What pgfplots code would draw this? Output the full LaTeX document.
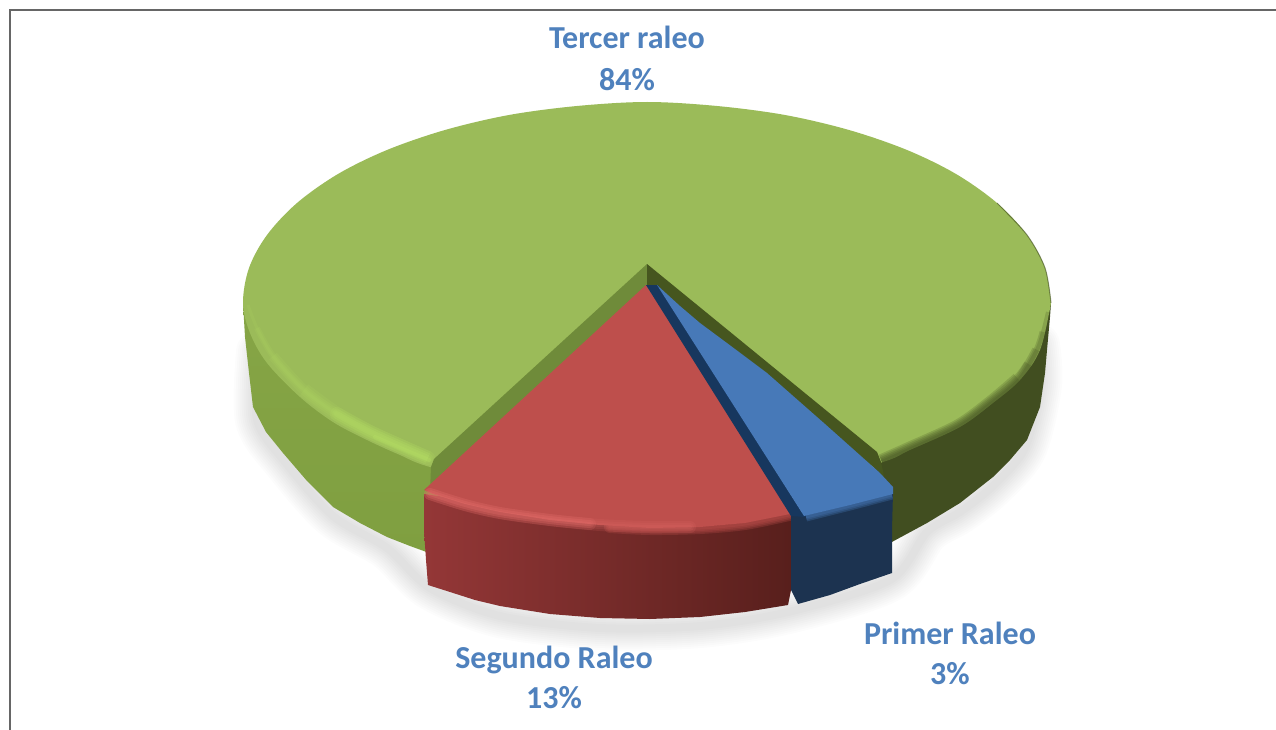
\documentclass[border=0pt]{standalone}
\usepackage{fontspec}
\setmainfont{Carlito}
\usepackage{pgfplots}
\pgfplotsset{compat=1.18}
\definecolor{gtop}{HTML}{9BBB59}
\definecolor{gleft}{HTML}{7F9F40}
\definecolor{gleftb}{HTML}{86A546}
\definecolor{gdark}{HTML}{414E20}
\definecolor{gwallL}{HTML}{6F8B3A}
\definecolor{gwallR}{HTML}{46561F}
\definecolor{ghi}{HTML}{B6E065}
\definecolor{rtop}{HTML}{BE4F4C}
\definecolor{rhi}{HTML}{E46D6A}
\definecolor{rl}{HTML}{943737}
\definecolor{rr}{HTML}{581F1C}
\definecolor{btop}{HTML}{4779B8}
\definecolor{bside}{HTML}{1C3350}
\definecolor{bwall}{HTML}{17375E}
\definecolor{lab}{HTML}{4F81BD}
\newcommand{\lbl}[1]{\fontsize{32}{36}\selectfont\bfseries\textcolor{lab}{#1}}
\begin{document}
\begin{tikzpicture}
\begin{axis}[
  width=1276pt,height=730pt,scale only axis,
  xmin=0,xmax=1276,ymin=0,ymax=730,y dir=reverse,
  hide axis,no markers,clip=true]
% frame
\addplot[draw=none,fill=white] coordinates {(0,0)(1276,0)(1276,730)(0,730)(0,0)};
\addplot[draw=black!60,line width=1.6pt] coordinates {(10,730)(10,10)(1276,10)};
% shadow
\pgfplotsinvokeforeach{44,40,36,32,28,24,20,16,12,8}{
\addplot[draw=black,opacity=.013,line width=#1pt,line join=round,line cap=round,fill=none,smooth] coordinates {
(258,352)(257,420)(285,462)(333,516)(387,548)(430,588)(500,616)(600,628)(700,626)(788,612)(890,580)(927,532)(960,512)(993,486)(1025,448)(1040,385)(1038,345)};
}
% green side, left and right
\addplot[draw=none,bottom color=gleft,top color=gleftb] coordinates {
(243,303)(245,337)(249,373)(253,407)(266,432)(283,453)(307,481)(333,507)(360,523)(387,537)(410,546)(432,554)(480,400)(243,303)};
\addplot[draw=none,fill=gdark] coordinates {
(1051,303)(1050,317)(1047,350)(1045,373)(1040,407)(1027,440)(1010,460)(993,477)(960,503)(927,523)(890,543)(860,400)(1051,303)};
% green top
\addplot[draw=none,fill=gtop,smooth,tension=.55] coordinates {
(1051,303)(1045,268)(1027,235)(997,203)(956,174)(907,150)(849,130)(785,115)(717,106)(647,102)
(577,106)(509,115)(445,130)(387,150)(338,174)(297,203)(267,235)(249,268)(243,303)
(250,333)(267,363)(300,397)(333,422)(367,440)(400,455)(430,467)(520,490)(647,500)(780,490)(880,463)
(910,450)(960,427)(993,403)(1020,380)(1040,350)(1051,303)};
% right rim: soft fall into the dark side
\addplot[draw=gdark,opacity=.22,line width=16pt,smooth,line cap=butt] coordinates {(1019,380)(992,403)(959,427)(909,450)(882,462)};
\addplot[draw=gdark,opacity=.22,line width=13pt,smooth,line cap=butt] coordinates {(1030,365)(1019,380)(992,403)(959,427)(909,450)(882,462)};
\addplot[draw=gdark,opacity=.22,line width=10pt,smooth,line cap=butt] coordinates {(1037,350)(1019,380)(992,403)(959,427)(909,450)(882,462)};
\addplot[draw=gdark,opacity=.22,line width=7pt,smooth,line cap=butt] coordinates {(1043,332)(1037,350)(1019,380)(992,403)(959,427)(909,450)(882,462)};
\addplot[draw=gdark,opacity=.22,line width=4pt,smooth,line cap=butt] coordinates {(1048,312)(1043,332)(1037,350)(1019,380)(992,403)(959,427)(909,450)(882,462)};
\addplot[draw=gdark,opacity=.6,line width=1pt,smooth] coordinates {(997,203)(1027,235)(1045,268)(1051,303)};
% left rim highlight
\addplot[draw=ghi,opacity=.13,line width=14pt,smooth,line cap=butt] coordinates {(304,390)(337,414)(370,432)(403,447)(428,458)};
\addplot[draw=ghi,opacity=.13,line width=10pt,smooth,line cap=butt] coordinates {(273,356)(304,390)(337,414)(370,432)(403,447)(428,458)};
\addplot[draw=ghi,opacity=.13,line width=6pt,smooth,line cap=butt] coordinates {(257,328)(273,356)(304,390)(337,414)(370,432)(403,447)(428,458)};
\addplot[draw=ghi,opacity=.13,line width=3pt,smooth,line cap=butt] coordinates {(248,305)(257,328)(273,356)(304,390)(337,414)(370,432)(403,447)(428,458)};
\pgfplotsinvokeforeach{14,10,6}{
\addplot[draw=ghi,opacity=.16,line width=#1pt,smooth,line cap=round] coordinates {
(337,414)(370,432)(403,447)(428,458)};
}
\addplot[draw=ghi,opacity=.3,line width=4pt,smooth,line cap=round] coordinates {(375,437)(405,450)(429,460)};
% gap walls in the green slice
\addplot[draw=none,fill=gwallL] coordinates {(647,264)(648,290)(430,492)(431,467)(434,459)(647,264)};
\addplot[draw=none,fill=gwallR] coordinates {(647,264)(877,452)(881,462)(884,476)(767,380)(700,326)(654,287)(647,285)(647,264)};
% red side
\addplot[draw=none,left color=rl,right color=rr] coordinates {
(424,494)(424,530)(426,560)(428,585)(450,592)(475,600)(500,606)(550,614)(600,618)(650,619)(700,617)(745,612)(788,605)(791,590)(791,510)(700,520)(600,518)(500,505)(424,494)};
% red top
\addplot[draw=none,fill=rtop] coordinates {
(646,285)(793,507)(790,514)(745,523)(700,527)(650,528)(600,525)(550,520)(500,512)(465,504)(433,494)(424,490)(646,285)};
\pgfplotsinvokeforeach{12,9,6,3}{
\addplot[draw=rtop,opacity=.28,line width=#1pt,smooth,line cap=round] coordinates {
(610,527)(650,529)(700,528)(745,524)(789,515)};
}
\pgfplotsinvokeforeach{12,8,4}{
\addplot[draw=rhi,opacity=.2,line width=#1pt,smooth,line cap=round] coordinates {
(430,494)(465,505)(500,513)(550,520)(590,524)};
\addplot[draw=rhi,opacity=.15,line width=#1pt,smooth,line cap=round] coordinates {
(430,494)(465,505)(500,513)(550,520)(600,525)(650,527)(690,527)};
}
% blue side, wall, top
\addplot[draw=none,fill=bside] coordinates {(791,510)(803,513)(893,492)(892,530)(892,573)(860,584)(830,595)(798,604)(791,590)(791,510)};
\addplot[draw=none,fill=bwall] coordinates {(646,285)(658,285)(805,517)(791,516)(646,285)};
\addplot[draw=none,fill=btop] coordinates {
(657,285)(680,306)(700,323)(735,349)(767,373)(825,424)(880,473)(893,487)(893,494)(850,505)(804,516)(657,285)};
\pgfplotsinvokeforeach{9,6,3}{
\addplot[draw=btop,opacity=.3,line width=#1pt,smooth] coordinates {(806,517)(850,506)(892,495)};
}
% labels
\node at (axis cs:627,37) {\lbl{Tercer raleo}};
\node at (axis cs:627,80) {\lbl{84\%}};
\node at (axis cs:950,633) {\lbl{Primer Raleo}};
\node at (axis cs:950,674) {\lbl{3\%}};
\node at (axis cs:554,660) {\lbl{Segundo Raleo}};
\node at (axis cs:554,698) {\lbl{13\%}};
\end{axis}
\end{tikzpicture}
\end{document}
